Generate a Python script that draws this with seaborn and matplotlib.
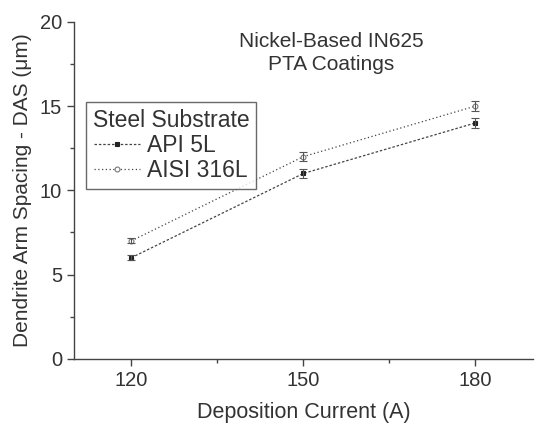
import numpy as np
import pandas as pd
import seaborn as sns
import matplotlib.pyplot as plt
from matplotlib.ticker import MultipleLocator

# Data
current = [120, 150, 180]
das_api5l = [6.0, 11.0, 14.0]
err_api5l = [0.15, 0.25, 0.3]
das_aisi316l = [7.0, 12.0, 15.0]
err_aisi316l = [0.15, 0.25, 0.3]
series_names = ["API 5L", "AISI 316L"]

df = pd.DataFrame({
    "current": current * 2,
    "das": das_api5l + das_aisi316l,
    "substrate": [series_names[0]] * 3 + [series_names[1]] * 3,
})

sns.set_style("ticks")
plt.rcParams["font.family"] = ["Liberation Sans", "DejaVu Sans"]
txt = "#333333"

fig = plt.figure(figsize=(5.36, 4.36), dpi=100)
ax = fig.add_axes([0.138, 0.177, 0.856, 0.773])

styles = {
    "API 5L": dict(marker="s", mfc="#222222", mec="#222222", ms=3, ls=(0, (2, 1.5))),
    "AISI 316L": dict(marker="o", mfc="white", mec="#777777", ms=3.5, ls=(0, (1, 2))),
}
errs = {"API 5L": err_api5l, "AISI 316L": err_aisi316l}

for name in series_names:
    sub = df[df["substrate"] == name]
    st = styles[name]
    sns.lineplot(data=sub, x="current", y="das", ax=ax, color="#444444",
                 linewidth=0.9, linestyle=st["ls"], marker=st["marker"],
                 markersize=st["ms"], markerfacecolor=st["mfc"],
                 markeredgecolor=st["mec"], markeredgewidth=0.8, label=name)
    ax.errorbar(sub["current"], sub["das"], yerr=errs[name], fmt="none",
                ecolor="#555555", elinewidth=0.8, capsize=3, capthick=0.8)

ax.set_xlim(110, 190)
ax.set_ylim(0, 20)
ax.set_xticks(current)
ax.xaxis.set_minor_locator(MultipleLocator(15))
ax.yaxis.set_major_locator(MultipleLocator(5))
ax.yaxis.set_minor_locator(MultipleLocator(2.5))
sns.despine(ax=ax)
for s in ["left", "bottom"]:
    ax.spines[s].set_color("#444444")
    ax.spines[s].set_linewidth(1.0)
ax.tick_params(which="major", length=5, width=1, colors="#444444",
               labelsize=14.5, labelcolor=txt)
ax.tick_params(which="minor", length=3, width=1, colors="#444444")

ax.set_xlabel("Deposition Current (A)", fontsize=15.5, color=txt, labelpad=9)
ax.set_ylabel("Dendrite Arm Spacing - DAS (\u03bcm)", fontsize=15,
              color=txt, labelpad=6)

ax.text(0.56, 0.97, "Nickel-Based IN625\nPTA Coatings", transform=ax.transAxes,
        ha="center", va="top", fontsize=15, color=txt, linespacing=1.25)

leg = ax.legend(title="Steel Substrate", loc="upper left",
                bbox_to_anchor=(0.026, 0.763), fontsize=16.5, title_fontsize=16.5,
                frameon=True, fancybox=False, edgecolor="#444444",
                handlelength=2.0, handletextpad=0.3, borderpad=0.3,
                labelspacing=0.1, borderaxespad=0)
leg.get_frame().set_linewidth(1.0)
for t in leg.get_texts():
    t.set_color(txt)
leg.get_title().set_color(txt)

fig.savefig("out.png", dpi=100)
